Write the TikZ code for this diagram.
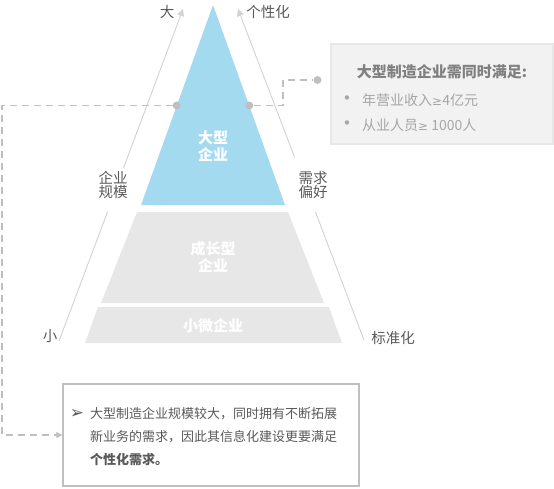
\documentclass[tikz,border=0pt]{standalone}
\usepackage{fontspec}
\setmainfont{Noto Sans CJK SC}
\newfontfamily\symfont{DejaVu Sans}
\usetikzlibrary{arrows.meta}
\definecolor{bigblue}{HTML}{A4DAF0}
\definecolor{layergray}{HTML}{E7E7E7}
\definecolor{axisgray}{HTML}{D2D2D2}
\definecolor{dashgray}{HTML}{BFBFBF}
\definecolor{labelgray}{HTML}{595959}
\definecolor{notegray}{HTML}{A6A6A6}
\definecolor{titlegray}{HTML}{808080}
\newcommand{\fsz}[1]{\fontsize{#1}{#1}\selectfont}
\newcommand{\atleast}{{\symfont\fontsize{12}{12}\selectfont ≥}}

\begin{document}
\begin{tikzpicture}[x=1pt, y=-1pt,
  axis/.style={draw=axisgray, line width=0.9pt},
  axislabel/.style={text=labelgray, font=\fsz{14.5}, align=center, inner sep=0pt},
  layertext/.style={text=white, font=\fsz{15}\bfseries, align=center, inner sep=0pt},
  guide/.style={draw=dashgray, line width=1.3pt, dash pattern=on 7pt off 5pt},
  dot/.style={circle, fill=dashgray, inner sep=0pt, minimum size=8pt}]
  \useasboundingbox (0,0) rectangle (554,488);

  % Pyramid layers
  \fill[bigblue] (213,5) -- (285,205) -- (141,205) -- cycle;
  \fill[layergray] (137,212) -- (288,212) -- (324,303) -- (101,303) -- cycle;
  \fill[layergray] (98,307) -- (329,307) -- (342,343) -- (85,343) -- cycle;
  \node[layertext] (big) at (213,146) {大型\\[2pt]企业};
  \node[layertext] (grow) at (213,257) {成长型\\[2pt]企业};
  \node[layertext] (small) at (213,326) {小微企业};

  % Side axes
  \coordinate (sizeLow) at (59,341);
  \coordinate (sizeA) at (107.5,212);
  \coordinate (sizeB) at (123.5,168);
  \coordinate (sizeTop) at (183,9);
  \coordinate (needLow) at (364,340);
  \coordinate (needA) at (315.5,212);
  \coordinate (needB) at (294.5,157);
  \coordinate (needTop) at (238,9);
  \draw[axis] (sizeLow) -- (sizeA);
  \draw[axis, -{Triangle[width=7pt, length=7pt]}] (sizeB) -- (sizeTop);
  \draw[axis] (needLow) -- (needA);
  \draw[axis, -{Triangle[width=7pt, length=7pt]}] (needB) -- (needTop);
  \node[axislabel] (large) at (167,12) {大};
  \node[axislabel] (custom) at (268,12) {个性化};
  \node[axislabel] (scale) at (113,185) {企业\\规模};
  \node[axislabel] (pref) at (313,185) {需求\\偏好};
  \node[axislabel] (tiny) at (50,336) {小};
  \node[axislabel] (standard) at (393,338) {标准化};

  % Criteria box
  \node[draw=layergray, line width=1.2pt, fill=black!5, minimum width=222pt,
    minimum height=100pt, inner sep=0pt] (criteria) at (442,94) {};
  \node[text=titlegray, font=\fsz{15}\bfseries, inner sep=0pt] (critTitle) at (442,72)
    {大型制造企业需同时满足:};
  \node[text=notegray, font=\symfont\fsz{15}, inner sep=0pt] (bulletA) at (347,100) {•};
  \node[text=notegray, font=\symfont\fsz{15}, inner sep=0pt] (bulletB) at (347,125) {•};
  \node[text=notegray, font=\fsz{14}, anchor=west, inner sep=0pt] (revenue) at (362,100)
    {年营业收入\atleast4亿元};
  \node[text=notegray, font=\fsz{14}, anchor=west, inner sep=0pt] (staff) at (362,125)
    {从业人员\atleast{} 1000人};

  % Note box
  \node[draw=dashgray, line width=1.2pt, fill=white, minimum width=296pt,
    minimum height=102pt, inner sep=0pt] (note) at (211,435) {};
  \node[text=labelgray, font=\symfont\fsz{17}, inner sep=0pt] (mark) at (77,414) {➢};
  \node[text=labelgray, font=\fsz{13}, anchor=west, inner sep=0pt] (lineA) at (90,414)
    {大型制造企业规模较大，同时拥有不断拓展};
  \node[text=labelgray, font=\fsz{13}, anchor=west, inner sep=0pt] (lineB) at (90,437)
    {新业务的需求，因此其信息化建设更要满足};
  \node[text=labelgray, font=\fsz{13}\bfseries, anchor=west, inner sep=0pt] (lineC) at (90,460)
    {个性化需求。};

  % Dashed guides
  \node[dot] (dotL) at (176.7,105.5) {};
  \node[dot] (dotR) at (249.3,105.5) {};
  \node[dot] (dotBox) at (317.5,80) {};
  \coordinate (cornerTop) at (2,105.5);
  \coordinate (cornerLow) at (2,435);
  \draw[guide, -{Triangle[width=6pt, length=6pt]}] (dotL) -- (cornerTop) -- (cornerLow) -- (note.west);
  \draw[guide] (dotR) -| (283,80) -- (dotBox);
\end{tikzpicture}
\end{document}
